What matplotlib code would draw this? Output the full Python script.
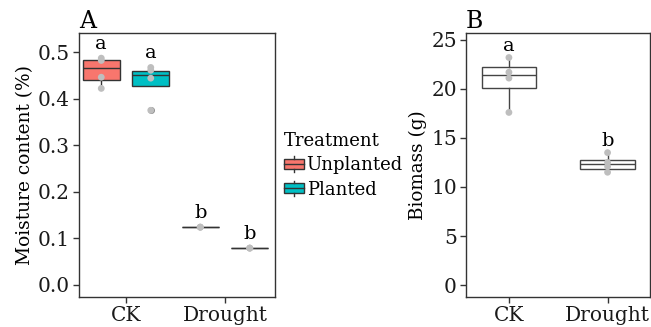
import numpy as np
import matplotlib
matplotlib.use("Agg")
import matplotlib.pyplot as plt
from matplotlib.legend_handler import HandlerBase
from matplotlib.patches import Rectangle
from matplotlib.lines import Line2D

plt.rcParams['font.family'] = ['DejaVu Serif']
plt.rcParams['font.size'] = 13

# panel A data: moisture content
groups = ['CK', 'Drought']
treatments = ['Unplanted', 'Planted']
colors = {'Unplanted': '#F8766D', 'Planted': '#00BFC4'}
moist_pts = {
    'Unplanted': [[0.487, 0.482, 0.446, 0.422], [0.124, 0.124, 0.124]],
    'Planted': [[0.467, 0.461, 0.444, 0.375], [0.079, 0.079, 0.079]],
}
moist_box = {  # whislo, q1, med, q3, whishi
    'Unplanted': [[0.422, 0.440, 0.465, 0.483, 0.487], [0.124] * 5],
    'Planted': [[0.427, 0.427, 0.450, 0.459, 0.467], [0.079] * 5],
}
moist_fliers = {'Unplanted': [[], []], 'Planted': [[0.375], []]}
moist_letters = {'Unplanted': ['a', 'b'], 'Planted': ['a', 'b']}

# panel B data: biomass
bio_pts = [[23.2, 21.7, 21.1, 17.6], [13.5, 12.5, 12.1, 11.5]]
bio_box = [[17.6, 20.1, 21.4, 22.2, 23.2], [11.5, 11.8, 12.3, 12.8, 13.45]]
bio_letters = ['a', 'b']

edge = '#333333'
ptcol = '#BEBEBE'
tick_fs = 14.5


def style(ax):
    for s in ax.spines.values():
        s.set_color(edge)
        s.set_linewidth(1.0)
    ax.tick_params(direction='out', length=4, width=1, color=edge,
                   labelcolor='#1a1a1a', labelsize=tick_fs, pad=2.5)


def mkstats(v, fl=()):
    return dict(whislo=v[0], q1=v[1], med=v[2], q3=v[3], whishi=v[4], fliers=list(fl))


fig = plt.figure(figsize=(6.51, 3.27), dpi=100)
axA = fig.add_axes([79 / 651, 30 / 327, 196 / 651, 264 / 327])
axB = fig.add_axes([466 / 651, 30 / 327, 184 / 651, 264 / 327])

x = np.arange(1, len(groups) + 1)
dodge = 0.25
for k, t in enumerate(treatments):
    pos = x + (k - 0.5) * 2 * dodge
    stats = [mkstats(moist_box[t][i], moist_fliers[t][i]) for i in range(len(groups))]
    axA.bxp(stats, positions=pos, widths=0.37, patch_artist=True, showcaps=False,
            boxprops=dict(facecolor=colors[t], edgecolor=edge, linewidth=1),
            medianprops=dict(color=edge, linewidth=1),
            whiskerprops=dict(color=edge, linewidth=1),
            flierprops=dict(marker='o', markersize=5, markerfacecolor='#8a8a8a',
                            markeredgecolor='none'))
    for i in range(len(groups)):
        pts = moist_pts[t][i]
        axA.scatter([pos[i]] * len(pts), pts, s=24, color=ptcol, zorder=4, edgecolors='none')
        axA.text(pos[i], max(pts) + 0.02, moist_letters[t][i], ha='center', va='baseline', fontsize=14)

axA.set_xlim(0.525, 2.505)
axA.set_ylim(-0.026, 0.541)
axA.set_xticks(x)
axA.set_xticklabels(groups)
axA.set_yticks([0.0, 0.1, 0.2, 0.3, 0.4, 0.5])
axA.set_yticklabels(['0.0', '0.1', '0.2', '0.3', '0.4', '0.5'])
axA.set_ylabel('Moisture content (%)', fontsize=13.4, labelpad=3)
axA.set_title('A', loc='left', fontsize=17, pad=3)
style(axA)

statsB = [mkstats(v) for v in bio_box]
axB.bxp(statsB, positions=x, widths=0.55, patch_artist=True, showcaps=False,
        boxprops=dict(facecolor='white', edgecolor='#444444', linewidth=1),
        medianprops=dict(color='#444444', linewidth=1),
        whiskerprops=dict(color='#444444', linewidth=1))
for i in range(len(groups)):
    axB.scatter([x[i]] * len(bio_pts[i]), bio_pts[i], s=24, color=ptcol, zorder=4, edgecolors='none')
    axB.text(x[i], max(bio_pts[i]) + 0.7, bio_letters[i], ha='center', va='baseline', fontsize=14)
axB.set_xlim(0.565, 2.43)
axB.set_ylim(-1.22, 25.7)
axB.set_xticks(x)
axB.set_xticklabels(groups)
axB.set_yticks([0, 5, 10, 15, 20, 25])
axB.set_ylabel('Biomass (g)', fontsize=13.2, labelpad=3)
axB.set_title('B', loc='left', fontsize=17, pad=3)
style(axB)


class BoxKey(HandlerBase):
    def create_artists(self, legend, orig, xd, yd, w, h, fontsize, trans):
        fc = orig.get_facecolor()
        r = Rectangle((xd, yd + 0.1 * h), w, 0.8 * h, facecolor=fc, edgecolor=edge, lw=1, transform=trans)
        m = Line2D([xd, xd + w], [yd + 0.5 * h] * 2, color=edge, lw=1, transform=trans)
        w1 = Line2D([xd + w / 2] * 2, [yd - 0.1 * h, yd + 0.1 * h], color=edge, lw=1, transform=trans)
        w2 = Line2D([xd + w / 2] * 2, [yd + 0.9 * h, yd + 1.1 * h], color=edge, lw=1, transform=trans)
        return [r, m, w1, w2]


handles = [Rectangle((0, 0), 1, 1, facecolor=colors[t]) for t in treatments]
leg = fig.legend(handles, treatments, title='Treatment', loc='upper left',
                 bbox_to_anchor=(284 / 651, 1 - 132 / 327), frameon=False,
                 handler_map={Rectangle: BoxKey()}, handlelength=1.1, handleheight=0.7,
                 handletextpad=0.15, labelspacing=0.35, fontsize=13, title_fontsize=13,
                 borderaxespad=0, borderpad=0)
leg._legend_box.align = 'left'

fig.savefig('out.png', dpi=100)
